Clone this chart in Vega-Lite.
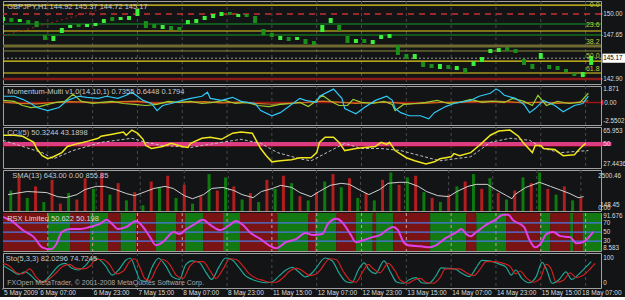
{
"$schema":"https://vega.github.io/schema/vega-lite/v6.json",
"background":"#121416",
"padding":0,
"spacing":0,
"config":{
 "view":{"stroke":"#a0a0a0","strokeWidth":1},
 "text":{"font":"Liberation Sans","fontSize":7}
},
"datasets":{
 "grid":[{"b":16},{"b":32},{"b":48},{"b":64},{"b":80},{"b":96},{"b":112},{"b":128},{"b":144},{"b":160},{"b":176},{"b":192},{"b":208}],
 "xl":[{"b":0,"t":"5 May 2009"},{"b":12.9,"t":"6 May 07:00"},{"b":32,"t":"6 May 23:00"},{"b":48,"t":"7 May 15:00"},{"b":64,"t":"8 May 07:00"},{"b":80,"t":"8 May 23:00"},{"b":96,"t":"11 May 15:00"},{"b":112,"t":"12 May 07:00"},{"b":128,"t":"12 May 23:00"},{"b":144,"t":"13 May 15:00"},{"b":160,"t":"14 May 07:00"},{"b":176,"t":"14 May 23:00"},{"b":192,"t":"15 May 15:00"},{"b":206.4,"t":"18 May 07:00"}],
 "candles":[
  {"b":0,"hi":149.67,"lo":149.23,"d":"u"},{"b":3,"hi":149.56,"lo":149.13,"d":"d"},{"b":6,"hi":149.45,"lo":149.13,"d":"u"},{"b":9,"hi":149.34,"lo":148.91,"d":"d"},{"b":12,"hi":149.23,"lo":148.58,"d":"d"},{"b":15,"hi":147.70,"lo":147.16,"d":"d"},{"b":18,"hi":147.60,"lo":147.05,"d":"u"},{"b":21,"hi":148.47,"lo":147.92,"d":"u"},{"b":24,"hi":148.80,"lo":148.47,"d":"u"},{"b":27,"hi":148.91,"lo":148.58,"d":"d"},{"b":30,"hi":148.91,"lo":148.58,"d":"u"},{"b":33,"hi":149.02,"lo":148.69,"d":"u"},{"b":36,"hi":149.45,"lo":149.02,"d":"u"},{"b":39,"hi":149.67,"lo":149.23,"d":"d"},{"b":42,"hi":149.67,"lo":149.34,"d":"u"},{"b":45,"hi":149.78,"lo":149.34,"d":"u"},{"b":48,"hi":150.55,"lo":149.78,"d":"u"},{"b":51,"hi":149.23,"lo":148.47,"d":"d"},{"b":54,"hi":148.91,"lo":148.47,"d":"d"},{"b":57,"hi":148.80,"lo":148.36,"d":"u"},{"b":60,"hi":148.69,"lo":148.25,"d":"d"},{"b":63,"hi":148.58,"lo":148.14,"d":"d"},{"b":66,"hi":149.34,"lo":148.91,"d":"u"},{"b":69,"hi":149.45,"lo":149.02,"d":"u"},{"b":72,"hi":149.78,"lo":149.34,"d":"u"},{"b":75,"hi":150.00,"lo":149.56,"d":"u"},{"b":78,"hi":150.22,"lo":149.78,"d":"u"},{"b":81,"hi":150.22,"lo":149.89,"d":"d"},{"b":84,"hi":150.00,"lo":149.67,"d":"u"},{"b":87,"hi":150.00,"lo":149.67,"d":"d"},{"b":90,"hi":149.78,"lo":149.02,"d":"d"},{"b":93,"hi":148.36,"lo":147.70,"d":"d"},{"b":96,"hi":147.92,"lo":147.49,"d":"d"},{"b":99,"hi":147.60,"lo":147.16,"d":"u"},{"b":102,"hi":147.49,"lo":147.05,"d":"d"},{"b":105,"hi":147.49,"lo":147.16,"d":"u"},{"b":108,"hi":147.27,"lo":146.72,"d":"d"},{"b":111,"hi":147.05,"lo":146.61,"d":"d"},{"b":114,"hi":148.80,"lo":148.03,"d":"u"},{"b":117,"hi":149.56,"lo":149.02,"d":"u"},{"b":120,"hi":148.80,"lo":148.14,"d":"d"},{"b":123,"hi":147.60,"lo":146.83,"d":"d"},{"b":126,"hi":147.27,"lo":146.83,"d":"u"},{"b":129,"hi":147.27,"lo":146.83,"d":"d"},{"b":132,"hi":147.16,"lo":146.72,"d":"u"},{"b":135,"hi":147.70,"lo":147.27,"d":"u"},{"b":138,"hi":147.81,"lo":147.38,"d":"u"},{"b":141,"hi":146.61,"lo":145.52,"d":"d"},{"b":144,"hi":145.63,"lo":145.08,"d":"d"},{"b":147,"hi":145.63,"lo":145.08,"d":"u"},{"b":150,"hi":144.75,"lo":144.21,"d":"d"},{"b":153,"hi":144.54,"lo":144.10,"d":"d"},{"b":156,"hi":144.54,"lo":143.99,"d":"u"},{"b":159,"hi":144.43,"lo":143.99,"d":"d"},{"b":162,"hi":144.32,"lo":143.88,"d":"u"},{"b":165,"hi":144.10,"lo":143.55,"d":"d"},{"b":168,"hi":144.86,"lo":144.32,"d":"u"},{"b":171,"hi":145.30,"lo":144.75,"d":"u"},{"b":174,"hi":146.17,"lo":145.74,"d":"u"},{"b":177,"hi":146.28,"lo":145.85,"d":"u"},{"b":180,"hi":146.39,"lo":145.96,"d":"d"},{"b":183,"hi":146.17,"lo":145.74,"d":"d"},{"b":186,"hi":145.08,"lo":144.43,"d":"d"},{"b":189,"hi":144.54,"lo":143.99,"d":"d"},{"b":192,"hi":145.74,"lo":145.08,"d":"u"},{"b":195,"hi":144.43,"lo":143.99,"d":"d"},{"b":198,"hi":144.32,"lo":143.88,"d":"d"},{"b":201,"hi":143.99,"lo":143.66,"d":"d"},{"b":204,"hi":143.55,"lo":143.22,"d":"d"},{"b":207,"hi":143.66,"lo":143.11,"d":"u"},{"b":210,"hi":145.41,"lo":144.43,"d":"u"}
 ],
 "mom":[
  {"b":0,"v":0.05,"s":"o"},{"b":6,"v":-0.1,"s":"o"},{"b":12,"v":-0.15,"s":"o"},{"b":18,"v":0.0,"s":"o"},{"b":24,"v":0.1,"s":"o"},{"b":30,"v":0.05,"s":"o"},{"b":36,"v":-0.05,"s":"o"},{"b":42,"v":0.1,"s":"o"},{"b":48,"v":0.15,"s":"o"},{"b":54,"v":-0.1,"s":"o"},{"b":60,"v":0.0,"s":"o"},{"b":66,"v":0.05,"s":"o"},{"b":72,"v":0.1,"s":"o"},{"b":78,"v":-0.05,"s":"o"},{"b":84,"v":0.05,"s":"o"},{"b":90,"v":-0.1,"s":"o"},{"b":96,"v":-0.2,"s":"o"},{"b":102,"v":-0.1,"s":"o"},{"b":108,"v":0.0,"s":"o"},{"b":114,"v":0.15,"s":"o"},{"b":120,"v":0.05,"s":"o"},{"b":126,"v":-0.1,"s":"o"},{"b":132,"v":0.0,"s":"o"},{"b":138,"v":0.05,"s":"o"},{"b":144,"v":-0.15,"s":"o"},{"b":150,"v":-0.1,"s":"o"},{"b":156,"v":0.0,"s":"o"},{"b":162,"v":0.05,"s":"o"},{"b":168,"v":0.1,"s":"o"},{"b":174,"v":0.15,"s":"o"},{"b":180,"v":0.1,"s":"o"},{"b":186,"v":-0.05,"s":"o"},{"b":192,"v":0.05,"s":"o"},{"b":198,"v":-0.1,"s":"o"},{"b":204,"v":0.0,"s":"o"},{"b":209,"v":0.2,"s":"o"},
  {"b":0,"v":0.24,"s":"g"},{"b":4,"v":0.13,"s":"g"},{"b":7,"v":-0.34,"s":"g"},{"b":10,"v":-0.57,"s":"g"},{"b":13,"v":-0.46,"s":"g"},{"b":16,"v":-0.22,"s":"g"},{"b":19,"v":0.01,"s":"g"},{"b":22,"v":0.13,"s":"g"},{"b":25,"v":0.94,"s":"g"},{"b":28,"v":0.13,"s":"g"},{"b":32,"v":-0.11,"s":"g"},{"b":35,"v":0.01,"s":"g"},{"b":39,"v":0.13,"s":"g"},{"b":43,"v":-0.11,"s":"g"},{"b":47,"v":-0.22,"s":"g"},{"b":51,"v":-0.34,"s":"g"},{"b":55,"v":-0.22,"s":"g"},{"b":59,"v":0.13,"s":"g"},{"b":63,"v":0.01,"s":"g"},{"b":67,"v":0.13,"s":"g"},{"b":71,"v":-0.11,"s":"g"},{"b":75,"v":0.01,"s":"g"},{"b":79,"v":0.24,"s":"g"},{"b":83,"v":-0.11,"s":"g"},{"b":87,"v":0.01,"s":"g"},{"b":91,"v":-0.34,"s":"g"},{"b":95,"v":-0.46,"s":"g"},{"b":99,"v":-0.22,"s":"g"},{"b":103,"v":-0.11,"s":"g"},{"b":106,"v":0.01,"s":"g"},{"b":109,"v":-0.46,"s":"g"},{"b":111,"v":0.01,"s":"g"},{"b":114,"v":0.82,"s":"g"},{"b":117,"v":0.13,"s":"g"},{"b":120,"v":-0.34,"s":"g"},{"b":123,"v":-0.34,"s":"g"},{"b":125,"v":0.36,"s":"g"},{"b":128,"v":0.01,"s":"g"},{"b":132,"v":-0.11,"s":"g"},{"b":136,"v":0.13,"s":"g"},{"b":139,"v":-0.22,"s":"g"},{"b":140,"v":-0.92,"s":"g"},{"b":143,"v":-0.22,"s":"g"},{"b":147,"v":-0.11,"s":"g"},{"b":151,"v":0.01,"s":"g"},{"b":155,"v":0.24,"s":"g"},{"b":159,"v":-0.11,"s":"g"},{"b":163,"v":0.01,"s":"g"},{"b":167,"v":0.36,"s":"g"},{"b":171,"v":0.01,"s":"g"},{"b":175,"v":0.13,"s":"g"},{"b":179,"v":0.01,"s":"g"},{"b":182,"v":0.47,"s":"g"},{"b":186,"v":0.13,"s":"g"},{"b":189,"v":-0.34,"s":"g"},{"b":191,"v":0.82,"s":"g"},{"b":194,"v":-0.34,"s":"g"},{"b":198,"v":0.13,"s":"g"},{"b":202,"v":-0.11,"s":"g"},{"b":206,"v":0.01,"s":"g"},{"b":209,"v":1.05,"s":"g"},
  {"b":0,"v":0.71,"s":"c"},{"b":4,"v":0.71,"s":"c"},{"b":7,"v":0.36,"s":"c"},{"b":10,"v":-0.11,"s":"c"},{"b":12,"v":-0.57,"s":"c"},{"b":16,"v":-0.92,"s":"c"},{"b":20,"v":-0.57,"s":"c"},{"b":23,"v":0.24,"s":"c"},{"b":27,"v":0.71,"s":"c"},{"b":30,"v":0.59,"s":"c"},{"b":34,"v":0.47,"s":"c"},{"b":37,"v":0.71,"s":"c"},{"b":41,"v":0.47,"s":"c"},{"b":44,"v":0.82,"s":"c"},{"b":46,"v":1.17,"s":"c"},{"b":48,"v":0.71,"s":"c"},{"b":50,"v":0.24,"s":"c"},{"b":53,"v":-0.11,"s":"c"},{"b":55,"v":-0.92,"s":"c"},{"b":57,"v":-0.34,"s":"c"},{"b":60,"v":-0.11,"s":"c"},{"b":64,"v":0.24,"s":"c"},{"b":67,"v":0.47,"s":"c"},{"b":71,"v":0.71,"s":"c"},{"b":73,"v":1.17,"s":"c"},{"b":74,"v":0.47,"s":"c"},{"b":78,"v":0.24,"s":"c"},{"b":82,"v":0.59,"s":"c"},{"b":85,"v":0.13,"s":"c"},{"b":90,"v":-0.11,"s":"c"},{"b":92,"v":-0.92,"s":"c"},{"b":96,"v":-1.5,"s":"c"},{"b":99,"v":-1.15,"s":"c"},{"b":103,"v":-0.22,"s":"c"},{"b":106,"v":0.47,"s":"c"},{"b":108,"v":0.24,"s":"c"},{"b":112,"v":0.01,"s":"c"},{"b":113,"v":0.71,"s":"c"},{"b":118,"v":1.52,"s":"c"},{"b":121,"v":0.47,"s":"c"},{"b":122,"v":-0.69,"s":"c"},{"b":126,"v":-1.27,"s":"c"},{"b":129,"v":-0.57,"s":"c"},{"b":133,"v":0.24,"s":"c"},{"b":137,"v":0.71,"s":"c"},{"b":139,"v":0.24,"s":"c"},{"b":140,"v":-0.69,"s":"c"},{"b":142,"v":-1.15,"s":"c"},{"b":145,"v":-1.5,"s":"c"},{"b":149,"v":-1.5,"s":"c"},{"b":152,"v":-1.85,"s":"c"},{"b":154,"v":-1.15,"s":"c"},{"b":158,"v":-0.46,"s":"c"},{"b":161,"v":-0.11,"s":"c"},{"b":167,"v":0.24,"s":"c"},{"b":170,"v":0.71,"s":"c"},{"b":174,"v":1.05,"s":"c"},{"b":176,"v":1.52,"s":"c"},{"b":177,"v":1.4,"s":"c"},{"b":179,"v":0.82,"s":"c"},{"b":183,"v":0.47,"s":"c"},{"b":184,"v":0.24,"s":"c"},{"b":186,"v":-0.22,"s":"c"},{"b":188,"v":-1.15,"s":"c"},{"b":190,"v":-0.69,"s":"c"},{"b":193,"v":0.24,"s":"c"},{"b":197,"v":-0.34,"s":"c"},{"b":200,"v":-1.04,"s":"c"},{"b":204,"v":-0.34,"s":"c"},{"b":207,"v":-0.11,"s":"c"},{"b":209,"v":0.71,"s":"c"}
 ],
 "cci":[
  {"b":0,"v":58.25,"s":"m"},{"b":4,"v":58.25,"s":"m"},{"b":7,"v":57.29,"s":"m"},{"b":11,"v":51.51,"s":"m"},{"b":12,"v":45.74,"s":"m"},{"b":14,"v":39.0,"s":"m"},{"b":16,"v":36.11,"s":"m"},{"b":18,"v":38.04,"s":"m"},{"b":21,"v":41.89,"s":"m"},{"b":23,"v":47.66,"s":"m"},{"b":27,"v":50.55,"s":"m"},{"b":30,"v":52.47,"s":"m"},{"b":34,"v":55.36,"s":"m"},{"b":35,"v":57.29,"s":"m"},{"b":39,"v":59.21,"s":"m"},{"b":43,"v":61.14,"s":"m"},{"b":44,"v":58.25,"s":"m"},{"b":46,"v":63.07,"s":"m"},{"b":48,"v":60.18,"s":"m"},{"b":50,"v":54.4,"s":"m"},{"b":51,"v":48.62,"s":"m"},{"b":53,"v":45.74,"s":"m"},{"b":57,"v":47.66,"s":"m"},{"b":60,"v":50.55,"s":"m"},{"b":64,"v":47.66,"s":"m"},{"b":66,"v":46.7,"s":"m"},{"b":67,"v":50.55,"s":"m"},{"b":71,"v":55.36,"s":"m"},{"b":74,"v":56.33,"s":"m"},{"b":78,"v":54.4,"s":"m"},{"b":82,"v":60.18,"s":"m"},{"b":85,"v":61.14,"s":"m"},{"b":89,"v":60.18,"s":"m"},{"b":90,"v":55.36,"s":"m"},{"b":92,"v":45.74,"s":"m"},{"b":94,"v":39.0,"s":"m"},{"b":96,"v":33.22,"s":"m"},{"b":99,"v":34.18,"s":"m"},{"b":103,"v":35.15,"s":"m"},{"b":106,"v":37.07,"s":"m"},{"b":110,"v":37.07,"s":"m"},{"b":112,"v":41.89,"s":"m"},{"b":113,"v":51.51,"s":"m"},{"b":115,"v":56.33,"s":"m"},{"b":118,"v":56.33,"s":"m"},{"b":120,"v":51.51,"s":"m"},{"b":122,"v":43.81,"s":"m"},{"b":126,"v":45.74,"s":"m"},{"b":129,"v":46.7,"s":"m"},{"b":133,"v":47.66,"s":"m"},{"b":135,"v":51.51,"s":"m"},{"b":137,"v":49.59,"s":"m"},{"b":138,"v":51.51,"s":"m"},{"b":140,"v":43.81,"s":"m"},{"b":144,"v":37.07,"s":"m"},{"b":147,"v":34.18,"s":"m"},{"b":151,"v":31.3,"s":"m"},{"b":154,"v":33.22,"s":"m"},{"b":156,"v":36.11,"s":"m"},{"b":160,"v":38.04,"s":"m"},{"b":161,"v":40.92,"s":"m"},{"b":163,"v":39.0,"s":"m"},{"b":167,"v":41.89,"s":"m"},{"b":170,"v":48.62,"s":"m"},{"b":172,"v":53.44,"s":"m"},{"b":174,"v":58.25,"s":"m"},{"b":177,"v":62.1,"s":"m"},{"b":181,"v":63.07,"s":"m"},{"b":184,"v":57.29,"s":"m"},{"b":186,"v":50.55,"s":"m"},{"b":189,"v":41.89,"s":"m"},{"b":190,"v":48.62,"s":"m"},{"b":192,"v":48.62,"s":"m"},{"b":193,"v":45.74,"s":"m"},{"b":197,"v":44.77,"s":"m"},{"b":200,"v":39.0,"s":"m"},{"b":204,"v":39.96,"s":"m"},{"b":206,"v":45.74,"s":"m"},{"b":208,"v":50.55,"s":"m"},
  {"b":0,"v":53.44,"s":"s"},{"b":14,"v":41.89,"s":"s"},{"b":18,"v":36.11,"s":"s"},{"b":25,"v":43.81,"s":"s"},{"b":35,"v":51.51,"s":"s"},{"b":46,"v":55.36,"s":"s"},{"b":51,"v":51.51,"s":"s"},{"b":57,"v":48.62,"s":"s"},{"b":67,"v":46.7,"s":"s"},{"b":78,"v":51.51,"s":"s"},{"b":85,"v":54.4,"s":"s"},{"b":92,"v":50.55,"s":"s"},{"b":98,"v":41.89,"s":"s"},{"b":106,"v":36.11,"s":"s"},{"b":110,"v":34.18,"s":"s"},{"b":117,"v":43.81,"s":"s"},{"b":122,"v":50.55,"s":"s"},{"b":128,"v":45.74,"s":"s"},{"b":135,"v":45.74,"s":"s"},{"b":142,"v":43.81,"s":"s"},{"b":149,"v":39.0,"s":"s"},{"b":156,"v":34.18,"s":"s"},{"b":167,"v":38.04,"s":"s"},{"b":174,"v":51.51,"s":"s"},{"b":181,"v":55.36,"s":"s"},{"b":188,"v":53.44,"s":"s"},{"b":193,"v":45.74,"s":"s"},{"b":199,"v":41.89,"s":"s"},{"b":209,"v":43.81,"s":"s"}
 ],
 "vol":[
  {"b":1,"v":1250,"d":"g"},{"b":4,"v":2050,"d":"r"},{"b":7,"v":800,"d":"g"},{"b":10,"v":1500,"d":"r"},{"b":13,"v":550,"d":"g"},{"b":16,"v":1900,"d":"r"},{"b":19,"v":450,"d":"r"},{"b":22,"v":1100,"d":"g"},{"b":25,"v":700,"d":"r"},{"b":28,"v":2000,"d":"r"},{"b":31,"v":1350,"d":"g"},{"b":34,"v":2350,"d":"r"},{"b":37,"v":1000,"d":"g"},{"b":40,"v":1700,"d":"r"},{"b":43,"v":650,"d":"g"},{"b":46,"v":1150,"d":"r"},{"b":49,"v":350,"d":"g"},{"b":52,"v":1800,"d":"r"},{"b":55,"v":1450,"d":"g"},{"b":58,"v":2150,"d":"r"},{"b":61,"v":800,"d":"g"},{"b":64,"v":1600,"d":"r"},{"b":67,"v":450,"d":"g"},{"b":70,"v":900,"d":"r"},{"b":73,"v":2250,"d":"g"},{"b":76,"v":1250,"d":"r"},{"b":79,"v":2050,"d":"g"},{"b":82,"v":1500,"d":"r"},{"b":85,"v":700,"d":"g"},{"b":88,"v":1100,"d":"r"},{"b":91,"v":550,"d":"g"},{"b":94,"v":1900,"d":"r"},{"b":97,"v":1350,"d":"g"},{"b":100,"v":2150,"d":"r"},{"b":103,"v":1700,"d":"g"},{"b":106,"v":900,"d":"r"},{"b":109,"v":650,"d":"g"},{"b":112,"v":1150,"d":"r"},{"b":115,"v":1800,"d":"g"},{"b":118,"v":2250,"d":"r"},{"b":121,"v":1450,"d":"g"},{"b":124,"v":2000,"d":"r"},{"b":127,"v":800,"d":"g"},{"b":130,"v":1100,"d":"r"},{"b":133,"v":650,"d":"g"},{"b":136,"v":1900,"d":"r"},{"b":139,"v":2350,"d":"g"},{"b":142,"v":1600,"d":"r"},{"b":145,"v":2050,"d":"g"},{"b":148,"v":2150,"d":"r"},{"b":151,"v":1150,"d":"g"},{"b":154,"v":800,"d":"r"},{"b":157,"v":550,"d":"g"},{"b":160,"v":1000,"d":"r"},{"b":163,"v":1500,"d":"g"},{"b":166,"v":1800,"d":"r"},{"b":169,"v":2250,"d":"g"},{"b":172,"v":1350,"d":"r"},{"b":175,"v":2000,"d":"g"},{"b":178,"v":1100,"d":"r"},{"b":181,"v":700,"d":"g"},{"b":184,"v":1250,"d":"r"},{"b":187,"v":2050,"d":"g"},{"b":190,"v":1700,"d":"r"},{"b":193,"v":2350,"d":"g"},{"b":196,"v":1350,"d":"r"},{"b":199,"v":1000,"d":"g"},{"b":202,"v":1500,"d":"r"},{"b":205,"v":650,"d":"g"},{"b":208,"v":800,"d":"r"}
 ],
 "volma":[
  {"b":0,"v":1000},{"b":7,"v":1188},{"b":14,"v":1125},{"b":18,"v":875},{"b":21,"v":813},{"b":25,"v":1000},{"b":28,"v":1313},{"b":32,"v":1500},{"b":35,"v":1500},{"b":39,"v":1313},{"b":43,"v":1063},{"b":46,"v":938},{"b":50,"v":1188},{"b":53,"v":1375},{"b":57,"v":1500},{"b":60,"v":1375},{"b":64,"v":938},{"b":67,"v":750},{"b":71,"v":1000},{"b":74,"v":1375},{"b":78,"v":1438},{"b":82,"v":1250},{"b":85,"v":1000},{"b":89,"v":813},{"b":92,"v":1188},{"b":96,"v":1375},{"b":99,"v":1563},{"b":103,"v":1438},{"b":106,"v":1125},{"b":110,"v":875},{"b":113,"v":1188},{"b":117,"v":1563},{"b":121,"v":1688},{"b":124,"v":1625},{"b":128,"v":1250},{"b":131,"v":1000},{"b":135,"v":1313},{"b":138,"v":1688},{"b":142,"v":1750},{"b":145,"v":1750},{"b":149,"v":1500},{"b":152,"v":1188},{"b":156,"v":938},{"b":160,"v":875},{"b":163,"v":1188},{"b":167,"v":1500},{"b":170,"v":1625},{"b":174,"v":1625},{"b":177,"v":1313},{"b":181,"v":938},{"b":183,"v":750},{"b":184,"v":1000},{"b":188,"v":1438},{"b":193,"v":1750},{"b":197,"v":1500},{"b":200,"v":1313},{"b":204,"v":1063},{"b":207,"v":813},{"b":209,"v":875}
 ],
 "bands":[
  {"b0":0,"b1":16,"d":"r"},{"b0":16,"b1":24,"d":"g"},{"b0":24,"b1":31,"d":"r"},{"b0":31,"b1":37.5,"d":"g"},{"b0":37.5,"b1":42,"d":"r"},{"b0":42,"b1":47.5,"d":"g"},{"b0":47.5,"b1":54.6,"d":"r"},{"b0":54.6,"b1":61.8,"d":"g"},{"b0":61.8,"b1":65,"d":"r"},{"b0":65,"b1":71.4,"d":"g"},{"b0":71.4,"b1":78.6,"d":"r"},{"b0":78.6,"b1":84.6,"d":"g"},{"b0":84.6,"b1":98,"d":"r"},{"b0":98,"b1":109,"d":"g"},{"b0":109,"b1":111.4,"d":"r"},{"b0":111.4,"b1":119,"d":"g"},{"b0":119,"b1":126,"d":"r"},{"b0":126,"b1":132,"d":"g"},{"b0":132,"b1":133.2,"d":"r"},{"b0":133.2,"b1":139.3,"d":"g"},{"b0":139.3,"b1":152.5,"d":"r"},{"b0":152.5,"b1":165.4,"d":"g"},{"b0":165.4,"b1":169,"d":"r"},{"b0":169,"b1":179.6,"d":"g"},{"b0":179.6,"b1":191.8,"d":"r"},{"b0":191.8,"b1":195.4,"d":"g"},{"b0":195.4,"b1":202.5,"d":"r"},{"b0":202.5,"b1":203.6,"d":"g"},{"b0":203.6,"b1":207,"d":"r"},{"b0":207,"b1":213.5,"d":"g"}
 ],
 "rsx":[
  {"b":0,"v":83.3},{"b":3.6,"v":72.2},{"b":7,"v":54.4},{"b":11,"v":38.9},{"b":14,"v":16.7},{"b":17,"v":12.2},{"b":19,"v":23.3},{"b":21,"v":50},{"b":24,"v":56.7},{"b":27.5,"v":56.7},{"b":31,"v":61.1},{"b":34.6,"v":67.8},{"b":37,"v":76.7},{"b":39,"v":67.8},{"b":41,"v":56.7},{"b":44,"v":61.1},{"b":47.5,"v":74.4},{"b":50,"v":61.1},{"b":52.5,"v":38.9},{"b":54.6,"v":21.1},{"b":57,"v":27.8},{"b":61,"v":50},{"b":63,"v":45.6},{"b":65,"v":54.4},{"b":68,"v":65.6},{"b":71.4,"v":76.7},{"b":74,"v":65.6},{"b":77.5,"v":54.4},{"b":81,"v":65.6},{"b":83,"v":74.4},{"b":85.7,"v":65.6},{"b":88,"v":50},{"b":92,"v":34.4},{"b":95,"v":21.1},{"b":97.5,"v":14.4},{"b":101,"v":27.8},{"b":104.6,"v":34.4},{"b":108,"v":47.8},{"b":110.7,"v":43.3},{"b":114,"v":45.6},{"b":116,"v":67.8},{"b":119,"v":78.9},{"b":121,"v":72.2},{"b":124,"v":45.6},{"b":126,"v":27.8},{"b":128.6,"v":32.2},{"b":132,"v":38.9},{"b":134.6,"v":43.3},{"b":137,"v":54.4},{"b":139.3,"v":61.1},{"b":141,"v":54.4},{"b":143,"v":27.8},{"b":144.6,"v":21.1},{"b":149,"v":18.9},{"b":152.5,"v":16.7},{"b":154.6,"v":21.1},{"b":158,"v":36.7},{"b":162,"v":50},{"b":163.6,"v":56.7},{"b":165.4,"v":45.6},{"b":167,"v":41.1},{"b":169,"v":50},{"b":172.5,"v":65.6},{"b":175.7,"v":76.7},{"b":178.6,"v":87.8},{"b":180.4,"v":87.8},{"b":182,"v":76.7},{"b":186,"v":61.1},{"b":188,"v":32.2},{"b":190,"v":16.7},{"b":191.8,"v":23.3},{"b":194,"v":45.6},{"b":196.4,"v":50},{"b":199,"v":41.1},{"b":202.5,"v":38.9},{"b":204.6,"v":25.6},{"b":207,"v":27.8},{"b":210.7,"v":50.6}
 ],
 "sto":[
  {"b":0,"v":70,"s":"t"},{"b":3,"v":50,"s":"t"},{"b":5.5,"v":35,"s":"t"},{"b":8,"v":45,"s":"t"},{"b":10,"v":30,"s":"t"},{"b":12.8,"v":5,"s":"t"},{"b":15,"v":10,"s":"t"},{"b":17.5,"v":40,"s":"t"},{"b":20,"v":70,"s":"t"},{"b":22.3,"v":78,"s":"t"},{"b":24.5,"v":60,"s":"t"},{"b":27,"v":52,"s":"t"},{"b":29.5,"v":70,"s":"t"},{"b":32,"v":98,"s":"t"},{"b":34,"v":95,"s":"t"},{"b":36.5,"v":70,"s":"t"},{"b":39,"v":32,"s":"t"},{"b":41.5,"v":55,"s":"t"},{"b":44,"v":92,"s":"t"},{"b":45.5,"v":98,"s":"t"},{"b":47.5,"v":50,"s":"t"},{"b":49,"v":12,"s":"t"},{"b":51,"v":8,"s":"t"},{"b":53.3,"v":65,"s":"t"},{"b":55.5,"v":98,"s":"t"},{"b":58,"v":70,"s":"t"},{"b":60.5,"v":25,"s":"t"},{"b":63,"v":15,"s":"t"},{"b":65.2,"v":72,"s":"t"},{"b":67.5,"v":88,"s":"t"},{"b":70,"v":82,"s":"t"},{"b":72.5,"v":42,"s":"t"},{"b":74.5,"v":15,"s":"t"},{"b":77,"v":62,"s":"t"},{"b":79.5,"v":99,"s":"t"},{"b":82,"v":90,"s":"t"},{"b":84.2,"v":62,"s":"t"},{"b":86.5,"v":30,"s":"t"},{"b":89,"v":15,"s":"t"},{"b":91.5,"v":6,"s":"t"},{"b":94,"v":2,"s":"t"},{"b":96,"v":5,"s":"t"},{"b":98.5,"v":28,"s":"t"},{"b":101,"v":52,"s":"t"},{"b":103.3,"v":62,"s":"t"},{"b":105.5,"v":45,"s":"t"},{"b":108,"v":25,"s":"t"},{"b":110.5,"v":42,"s":"t"},{"b":111.5,"v":55,"s":"t"},{"b":115,"v":99,"s":"t"},{"b":117.5,"v":88,"s":"t"},{"b":120,"v":40,"s":"t"},{"b":122.5,"v":6,"s":"t"},{"b":124.5,"v":2,"s":"t"},{"b":127,"v":55,"s":"t"},{"b":129,"v":80,"s":"t"},{"b":130.5,"v":55,"s":"t"},{"b":133,"v":38,"s":"t"},{"b":136,"v":88,"s":"t"},{"b":138.5,"v":40,"s":"t"},{"b":140.5,"v":5,"s":"t"},{"b":143,"v":0,"s":"t"},{"b":145,"v":14,"s":"t"},{"b":147.5,"v":22,"s":"t"},{"b":149.5,"v":2,"s":"t"},{"b":152,"v":0,"s":"t"},{"b":154.5,"v":28,"s":"t"},{"b":156.5,"v":60,"s":"t"},{"b":159.2,"v":58,"s":"t"},{"b":161.5,"v":55,"s":"t"},{"b":164,"v":38,"s":"t"},{"b":166.5,"v":26,"s":"t"},{"b":169,"v":62,"s":"t"},{"b":171,"v":90,"s":"t"},{"b":174.2,"v":87,"s":"t"},{"b":177,"v":76,"s":"t"},{"b":179.5,"v":64,"s":"t"},{"b":181.5,"v":32,"s":"t"},{"b":183,"v":52,"s":"t"},{"b":185.3,"v":18,"s":"t"},{"b":187.8,"v":2,"s":"t"},{"b":190.3,"v":25,"s":"t"},{"b":192.5,"v":82,"s":"t"},{"b":194.2,"v":50,"s":"t"},{"b":196,"v":0,"s":"t"},{"b":198.5,"v":14,"s":"t"},{"b":201,"v":45,"s":"t"},{"b":203,"v":15,"s":"t"},{"b":205.5,"v":35,"s":"t"},{"b":208,"v":62,"s":"t"},{"b":210,"v":85,"s":"t"},
  {"b":0,"v":78,"s":"r"},{"b":2.4,"v":67,"s":"r"},{"b":4.8,"v":41,"s":"r"},{"b":7,"v":37,"s":"r"},{"b":9.5,"v":56,"s":"r"},{"b":12,"v":22,"s":"r"},{"b":14.3,"v":4,"s":"r"},{"b":16.7,"v":19,"s":"r"},{"b":19,"v":41,"s":"r"},{"b":21.4,"v":67,"s":"r"},{"b":23.8,"v":74,"s":"r"},{"b":26,"v":59,"s":"r"},{"b":28.6,"v":56,"s":"r"},{"b":31,"v":67,"s":"r"},{"b":33.3,"v":93,"s":"r"},{"b":35.7,"v":93,"s":"r"},{"b":38,"v":74,"s":"r"},{"b":40.5,"v":37,"s":"r"},{"b":43,"v":48,"s":"r"},{"b":45.2,"v":85,"s":"r"},{"b":47,"v":96,"s":"r"},{"b":49,"v":59,"s":"r"},{"b":50.6,"v":19,"s":"r"},{"b":52.4,"v":11,"s":"r"},{"b":54.8,"v":59,"s":"r"},{"b":57,"v":93,"s":"r"},{"b":59.5,"v":74,"s":"r"},{"b":62,"v":30,"s":"r"},{"b":64.3,"v":19,"s":"r"},{"b":66.7,"v":67,"s":"r"},{"b":69,"v":85,"s":"r"},{"b":71.4,"v":85,"s":"r"},{"b":74,"v":48,"s":"r"},{"b":76,"v":19,"s":"r"},{"b":78.6,"v":56,"s":"r"},{"b":81,"v":96,"s":"r"},{"b":83.3,"v":93,"s":"r"},{"b":85.7,"v":67,"s":"r"},{"b":88,"v":37,"s":"r"},{"b":90.5,"v":19,"s":"r"},{"b":93,"v":11,"s":"r"},{"b":95.2,"v":4,"s":"r"},{"b":97.5,"v":4,"s":"r"},{"b":100,"v":22,"s":"r"},{"b":102.4,"v":48,"s":"r"},{"b":104.8,"v":59,"s":"r"},{"b":107,"v":48,"s":"r"},{"b":109.5,"v":30,"s":"r"},{"b":112,"v":37,"s":"r"},{"b":113,"v":48,"s":"r"},{"b":116.7,"v":96,"s":"r"},{"b":119,"v":93,"s":"r"},{"b":121.4,"v":48,"s":"r"},{"b":124,"v":11,"s":"r"},{"b":126,"v":4,"s":"r"},{"b":128.6,"v":48,"s":"r"},{"b":130.4,"v":74,"s":"r"},{"b":132,"v":59,"s":"r"},{"b":134.6,"v":41,"s":"r"},{"b":137.5,"v":78,"s":"r"},{"b":140,"v":48,"s":"r"},{"b":142,"v":11,"s":"r"},{"b":144.6,"v":0,"s":"r"},{"b":146.4,"v":11,"s":"r"},{"b":149,"v":19,"s":"r"},{"b":151,"v":4,"s":"r"},{"b":153.6,"v":0,"s":"r"},{"b":156,"v":22,"s":"r"},{"b":158,"v":56,"s":"r"},{"b":160.7,"v":56,"s":"r"},{"b":163,"v":56,"s":"r"},{"b":165.4,"v":41,"s":"r"},{"b":168,"v":30,"s":"r"},{"b":170.4,"v":56,"s":"r"},{"b":172.5,"v":85,"s":"r"},{"b":175.7,"v":85,"s":"r"},{"b":178.6,"v":78,"s":"r"},{"b":181,"v":67,"s":"r"},{"b":183,"v":37,"s":"r"},{"b":184.6,"v":48,"s":"r"},{"b":186.8,"v":22,"s":"r"},{"b":189.3,"v":4,"s":"r"},{"b":191.8,"v":19,"s":"r"},{"b":194,"v":74,"s":"r"},{"b":195.7,"v":56,"s":"r"},{"b":197.5,"v":4,"s":"r"},{"b":200,"v":11,"s":"r"},{"b":202.5,"v":41,"s":"r"},{"b":204.6,"v":22,"s":"r"},{"b":207,"v":30,"s":"r"},{"b":209.6,"v":56,"s":"r"},{"b":211.4,"v":78,"s":"r"}
 ]
},
"vconcat":[
 {
  "width":598,"height":83,
  "layer":[
   {"data":{"name":"grid"},"mark":{"type":"rule","color":"#4a4a4a","strokeDash":[3,3]},
    "encoding":{"x":{"field":"b","type":"quantitative","scale":{"domain":[0,213.5],"nice":false,"zero":false},"axis":null}}},
   {"data":{"values":[{"p":150.98},{"p":148.14},{"p":144.86},{"p":143.55}]},"mark":{"type":"rule","color":"#e8d21e","strokeWidth":1.2},
    "encoding":{"y":{"field":"p","type":"quantitative","scale":{"domain":[142.35,151.42],"nice":false,"zero":false},"axis":null}}},
   {"data":{"values":[{"p":150.0}]},"mark":{"type":"rule","color":"#c83232","strokeDash":[6,5],"strokeWidth":1.3},
    "encoding":{"y":{"field":"p","type":"quantitative","scale":{"domain":[142.35,151.42],"nice":false,"zero":false},"axis":null}}},
   {"data":{"values":[{"p":148.91},{"p":147.70}]},"mark":{"type":"rule","color":"#136e1e","strokeWidth":1.5},
    "encoding":{"y":{"field":"p","type":"quantitative","scale":{"domain":[142.35,151.42],"nice":false,"zero":false},"axis":null}}},
   {"data":{"values":[{"p":146.5}]},"mark":{"type":"rule","color":"#6e6a30","strokeWidth":3},
    "encoding":{"y":{"field":"p","type":"quantitative","scale":{"domain":[142.35,151.42],"nice":false,"zero":false},"axis":null}}},
   {"data":{"values":[{"p":145.96}]},"mark":{"type":"rule","color":"#8a8a3a","strokeWidth":1},
    "encoding":{"y":{"field":"p","type":"quantitative","scale":{"domain":[142.35,151.42],"nice":false,"zero":false},"axis":null}}},
   {"data":{"values":[{"p":145.17}]},"mark":{"type":"rule","color":"#9a9a9a","strokeDash":[2,2]},
    "encoding":{"y":{"field":"p","type":"quantitative","scale":{"domain":[142.35,151.42],"nice":false,"zero":false},"axis":null}}},
   {"data":{"values":[{"p":142.9}]},"mark":{"type":"rule","color":"#8b1c1c","strokeWidth":2.5},
    "encoding":{"y":{"field":"p","type":"quantitative","scale":{"domain":[142.35,151.42],"nice":false,"zero":false},"axis":null}}},
   {"data":{"values":[{"b":0,"p":147.6},{"b":39,"p":150.87}]},"mark":{"type":"line","color":"#b02020","strokeDash":[2,3],"strokeWidth":1,"clip":true},
    "encoding":{"x":{"field":"b","type":"quantitative","scale":{"domain":[0,213.5],"nice":false,"zero":false},"axis":null},"y":{"field":"p","type":"quantitative","scale":{"domain":[142.35,151.42],"nice":false,"zero":false},"axis":null}}},
   {"data":{"name":"candles"},"mark":{"type":"rule","strokeWidth":4,"clip":true},
    "encoding":{"x":{"field":"b","type":"quantitative","scale":{"domain":[0,213.5],"nice":false,"zero":false},"axis":null},"y":{"field":"lo","type":"quantitative","scale":{"domain":[142.35,151.42],"nice":false,"zero":false},"axis":null},"y2":{"field":"hi"},
     "color":{"field":"d","type":"nominal","scale":{"domain":["u","d"],"range":["#3cf03c","#1a8f1a"]},"legend":null}}},
   {"data":{"values":[{"p":151.0,"t":"0.0"},{"p":148.80,"t":"23.6"},{"p":146.94,"t":"38.2"},{"p":145.41,"t":"50.0"},{"p":143.99,"t":"61.8"}]},"mark":{"type":"text","align":"right","color":"#c8c83c","fontSize":7},
    "encoding":{"x":{"datum":213,"type":"quantitative","scale":{"domain":[0,213.5],"nice":false,"zero":false},"axis":null},"y":{"field":"p","type":"quantitative","scale":{"domain":[142.35,151.42],"nice":false,"zero":false},"axis":null},"text":{"field":"t"}}},
   {"data":{"values":[{"t":"GBPJPY,H1  144.92 145.37 144.72 145.17"}]},"mark":{"type":"text","align":"left","baseline":"top","color":"#c8c8c8","fontSize":7.5,"dy":1.5},
    "encoding":{"x":{"datum":1.5,"type":"quantitative","scale":{"domain":[0,213.5],"nice":false,"zero":false},"axis":null},"y":{"datum":151.42,"type":"quantitative","scale":{"domain":[142.35,151.42],"nice":false,"zero":false},"axis":null},"text":{"field":"t"}}},
   {"data":{"values":[{"p":150.0,"t":"150.00"},{"p":147.65,"t":"147.65"},{"p":142.9,"t":"142.90"}]},"mark":{"type":"text","align":"left","baseline":"middle","color":"#dcdcdc","fontSize":6.3},
    "encoding":{"x":{"datum":214.3,"type":"quantitative","scale":{"domain":[0,213.5],"nice":false,"zero":false},"axis":null},"y":{"field":"p","type":"quantitative","scale":{"domain":[142.35,151.42],"nice":false,"zero":false},"axis":null},"text":{"field":"t"}}},
   {"data":{"values":[{"p":150.0},{"p":147.65},{"p":142.9}]},"mark":{"type":"rule","color":"#a0a0a0"},
    "encoding":{"x":{"datum":213.5,"type":"quantitative","scale":{"domain":[0,213.5],"nice":false,"zero":false},"axis":null},"x2":{"datum":214.1},"y":{"field":"p","type":"quantitative","scale":{"domain":[142.35,151.42],"nice":false,"zero":false},"axis":null}}},
   {"data":{"values":[{}]},"mark":{"type":"rect","color":"#ffffff"},
    "encoding":{"x":{"datum":214.0,"type":"quantitative","scale":{"domain":[0,213.5],"nice":false,"zero":false},"axis":null},"x2":{"datum":222.5},"y":{"datum":144.67,"type":"quantitative","scale":{"domain":[142.35,151.42],"nice":false,"zero":false},"axis":null},"y2":{"datum":145.67}}},
   {"data":{"values":[{"t":"145.17"}]},"mark":{"type":"text","align":"left","baseline":"middle","color":"#000000","fontSize":6.3},
    "encoding":{"x":{"datum":214.3,"type":"quantitative","scale":{"domain":[0,213.5],"nice":false,"zero":false},"axis":null},"y":{"datum":145.17,"type":"quantitative","scale":{"domain":[142.35,151.42],"nice":false,"zero":false},"axis":null},"text":{"field":"t"}}}
  ]
 },
 {
  "width":598,"height":39,
  "layer":[
   {"data":{"name":"grid"},"mark":{"type":"rule","color":"#4a4a4a","strokeDash":[3,3]},
    "encoding":{"x":{"field":"b","type":"quantitative","scale":{"domain":[0,213.5],"nice":false,"zero":false},"axis":null}}},
   {"data":{"values":[{"v":0}]},"mark":{"type":"rule","color":"#a01414","strokeWidth":1.5},
    "encoding":{"y":{"field":"v","type":"quantitative","scale":{"domain":[-2.5502,1.871],"nice":false,"zero":false},"axis":null}}},
   {"data":{"name":"mom"},"mark":{"type":"line","strokeWidth":1.2,"clip":true},
    "encoding":{"x":{"field":"b","type":"quantitative","scale":{"domain":[0,213.5],"nice":false,"zero":false},"axis":null},"y":{"field":"v","type":"quantitative","scale":{"domain":[-2.5502,1.871],"nice":false,"zero":false},"axis":null},
     "color":{"field":"s","type":"nominal","scale":{"domain":["o","g","c"],"range":["#d2741e","#9acd32","#30c8f8"]},"legend":null}}},
   {"data":{"values":[{"t":"Momentum-Multi v1.0(14,10,1) 0.7355 0.6448 0.1794"}]},"mark":{"type":"text","align":"left","baseline":"top","color":"#c8c8c8","fontSize":7.5,"dy":2},
    "encoding":{"x":{"datum":1.5,"type":"quantitative","scale":{"domain":[0,213.5],"nice":false,"zero":false},"axis":null},"y":{"datum":1.871,"type":"quantitative","scale":{"domain":[-2.5502,1.871],"nice":false,"zero":false},"axis":null},"text":{"field":"t"}}},
   {"data":{"values":[{}]},"mark":{"type":"rect","color":"#d03040"},
    "encoding":{"x":{"datum":213.8,"type":"quantitative","scale":{"domain":[0,213.5],"nice":false,"zero":false},"axis":null},"x2":{"datum":214.3},"y":{"datum":-0.3,"type":"quantitative","scale":{"domain":[-2.5502,1.871],"nice":false,"zero":false},"axis":null},"y2":{"datum":0.3}}},
   {"data":{"values":[{"v":0,"t":"0.00"}]},"mark":{"type":"text","align":"left","baseline":"middle","color":"#dcdcdc","fontSize":6.3},
    "encoding":{"x":{"datum":214.7,"type":"quantitative","scale":{"domain":[0,213.5],"nice":false,"zero":false},"axis":null},"y":{"field":"v","type":"quantitative","scale":{"domain":[-2.5502,1.871],"nice":false,"zero":false},"axis":null},"text":{"field":"t"}}},
   {"data":{"values":[{"v":1.871,"t":"1.871"}]},"mark":{"type":"text","align":"left","baseline":"top","color":"#dcdcdc","fontSize":6.3,"dy":0},
    "encoding":{"x":{"datum":214.3,"type":"quantitative","scale":{"domain":[0,213.5],"nice":false,"zero":false},"axis":null},"y":{"field":"v","type":"quantitative","scale":{"domain":[-2.5502,1.871],"nice":false,"zero":false},"axis":null},"text":{"field":"t"}}},
   {"data":{"values":[{"v":-2.5502,"t":"-2.5502"}]},"mark":{"type":"text","align":"left","baseline":"bottom","color":"#dcdcdc","fontSize":6.3,"dy":-1},
    "encoding":{"x":{"datum":214.3,"type":"quantitative","scale":{"domain":[0,213.5],"nice":false,"zero":false},"axis":null},"y":{"field":"v","type":"quantitative","scale":{"domain":[-2.5502,1.871],"nice":false,"zero":false},"axis":null},"text":{"field":"t"}}}
  ]
 },
 {
  "width":598,"height":41,
  "layer":[
   {"data":{"name":"grid"},"mark":{"type":"rule","color":"#4a4a4a","strokeDash":[3,3]},
    "encoding":{"x":{"field":"b","type":"quantitative","scale":{"domain":[0,213.5],"nice":false,"zero":false},"axis":null}}},
   {"data":{"values":[{"v":48.0}]},"mark":{"type":"rule","color":"#8b1010","strokeWidth":1.5},
    "encoding":{"y":{"field":"v","type":"quantitative","scale":{"domain":[27.4436,65.953],"nice":false,"zero":false},"axis":null}}},
   {"data":{"values":[{"v":50}]},"mark":{"type":"rule","color":"#dc3c82","strokeWidth":4},
    "encoding":{"y":{"field":"v","type":"quantitative","scale":{"domain":[27.4436,65.953],"nice":false,"zero":false},"axis":null}}},
   {"data":{"name":"cci"},"transform":[{"filter":"datum.s == 's'"}],"mark":{"type":"line","color":"#c0c0c0","strokeDash":[3,2],"strokeWidth":1,"clip":true},
    "encoding":{"x":{"field":"b","type":"quantitative","scale":{"domain":[0,213.5],"nice":false,"zero":false},"axis":null},"y":{"field":"v","type":"quantitative","scale":{"domain":[27.4436,65.953],"nice":false,"zero":false},"axis":null}}},
   {"data":{"name":"cci"},"transform":[{"filter":"datum.s == 'm'"}],"mark":{"type":"line","color":"#f0e61e","strokeWidth":1.5,"clip":true},
    "encoding":{"x":{"field":"b","type":"quantitative","scale":{"domain":[0,213.5],"nice":false,"zero":false},"axis":null},"y":{"field":"v","type":"quantitative","scale":{"domain":[27.4436,65.953],"nice":false,"zero":false},"axis":null}}},
   {"data":{"values":[{"t":"CCI(5) 50.3244 43.1898"}]},"mark":{"type":"text","align":"left","baseline":"top","color":"#c8c8c8","fontSize":7.5,"dy":2},
    "encoding":{"x":{"datum":1.5,"type":"quantitative","scale":{"domain":[0,213.5],"nice":false,"zero":false},"axis":null},"y":{"datum":65.953,"type":"quantitative","scale":{"domain":[27.4436,65.953],"nice":false,"zero":false},"axis":null},"text":{"field":"t"}}},
   {"data":{"values":[{}]},"mark":{"type":"rect","color":"#dc3c82"},
    "encoding":{"x":{"datum":213.5,"type":"quantitative","scale":{"domain":[0,213.5],"nice":false,"zero":false},"axis":null},"x2":{"datum":217.2},"y":{"datum":48.1,"type":"quantitative","scale":{"domain":[27.4436,65.953],"nice":false,"zero":false},"axis":null},"y2":{"datum":51.9}}},
   {"data":{"values":[{"v":50,"t":"50"}]},"mark":{"type":"text","align":"left","baseline":"middle","color":"#f0d0e0","fontSize":6.3},
    "encoding":{"x":{"datum":214.3,"type":"quantitative","scale":{"domain":[0,213.5],"nice":false,"zero":false},"axis":null},"y":{"field":"v","type":"quantitative","scale":{"domain":[27.4436,65.953],"nice":false,"zero":false},"axis":null},"text":{"field":"t"}}},
   {"data":{"values":[{"v":65.953,"t":"65.953"}]},"mark":{"type":"text","align":"left","baseline":"top","color":"#dcdcdc","fontSize":6.3,"dy":1},
    "encoding":{"x":{"datum":214.3,"type":"quantitative","scale":{"domain":[0,213.5],"nice":false,"zero":false},"axis":null},"y":{"field":"v","type":"quantitative","scale":{"domain":[27.4436,65.953],"nice":false,"zero":false},"axis":null},"text":{"field":"t"}}},
   {"data":{"values":[{"v":27.4436,"t":"27.4436"}]},"mark":{"type":"text","align":"left","baseline":"bottom","color":"#dcdcdc","fontSize":6.3,"dy":-1},
    "encoding":{"x":{"datum":214.3,"type":"quantitative","scale":{"domain":[0,213.5],"nice":false,"zero":false},"axis":null},"y":{"field":"v","type":"quantitative","scale":{"domain":[27.4436,65.953],"nice":false,"zero":false},"axis":null},"text":{"field":"t"}}}
  ]
 },
 {
  "width":598,"height":41,
  "layer":[
   {"data":{"name":"grid"},"mark":{"type":"rule","color":"#4a4a4a","strokeDash":[3,3]},
    "encoding":{"x":{"field":"b","type":"quantitative","scale":{"domain":[0,213.5],"nice":false,"zero":false},"axis":null}}},
   {"data":{"name":"vol"},"mark":{"type":"bar","width":3,"clip":true},
    "encoding":{"x":{"field":"b","type":"quantitative","scale":{"domain":[0,213.5],"nice":false,"zero":false},"axis":null},"y":{"field":"v","type":"quantitative","scale":{"domain":[0,2500.46],"nice":false,"zero":false},"axis":null},
     "color":{"field":"d","type":"nominal","scale":{"domain":["r","g"],"range":["#b01e1e","#0c7a0c"]},"legend":null}}},
   {"data":{"name":"volma"},"mark":{"type":"line","color":"#d0d0d0","strokeWidth":1,"clip":true},
    "encoding":{"x":{"field":"b","type":"quantitative","scale":{"domain":[0,213.5],"nice":false,"zero":false},"axis":null},"y":{"field":"v","type":"quantitative","scale":{"domain":[0,2500.46],"nice":false,"zero":false},"axis":null}}},
   {"data":{"values":[{"t":"SMA(13) 643.00 0.00 855.85"}]},"mark":{"type":"text","align":"left","baseline":"top","color":"#c8c8c8","fontSize":7.5,"dy":2},
    "encoding":{"x":{"datum":1.5,"type":"quantitative","scale":{"domain":[0,213.5],"nice":false,"zero":false},"axis":null},"y":{"datum":2500.46,"type":"quantitative","scale":{"domain":[0,2500.46],"nice":false,"zero":false},"axis":null},"text":{"field":"t"}}},
   {"data":{"values":[{"v":2500.46,"t":"2500.46"}]},"mark":{"type":"text","align":"left","baseline":"top","color":"#dcdcdc","fontSize":6.3,"dy":3},
    "encoding":{"x":{"datum":214.3,"type":"quantitative","scale":{"domain":[0,213.5],"nice":false,"zero":false},"axis":null},"y":{"field":"v","type":"quantitative","scale":{"domain":[0,2500.46],"nice":false,"zero":false},"axis":null},"text":{"field":"t"}}},
   {"data":{"values":[{"v":0,"t":"148.45"}]},"mark":{"type":"text","align":"left","baseline":"bottom","color":"#dcdcdc","fontSize":6.3,"dy":-3,"dx":2},
    "encoding":{"x":{"datum":214.3,"type":"quantitative","scale":{"domain":[0,213.5],"nice":false,"zero":false},"axis":null},"y":{"field":"v","type":"quantitative","scale":{"domain":[0,2500.46],"nice":false,"zero":false},"axis":null},"text":{"field":"t"}}},
   {"data":{"values":[{"v":0,"t":"0.00"}]},"mark":{"type":"text","align":"left","baseline":"bottom","color":"#dcdcdc","fontSize":6.3,"dy":0},
    "encoding":{"x":{"datum":214.3,"type":"quantitative","scale":{"domain":[0,213.5],"nice":false,"zero":false},"axis":null},"y":{"field":"v","type":"quantitative","scale":{"domain":[0,2500.46],"nice":false,"zero":false},"axis":null},"text":{"field":"t"}}}
  ]
 },
 {
  "width":598,"height":38,
  "layer":[
   {"data":{"name":"bands"},"mark":{"type":"rect","clip":true},
    "encoding":{"x":{"field":"b0","type":"quantitative","scale":{"domain":[0,213.5],"nice":false,"zero":false},"axis":null},"x2":{"field":"b1"},
     "color":{"field":"d","type":"nominal","scale":{"domain":["r","g"],"range":["#7a1414","#137a13"]},"legend":null}}},
   {"data":{"name":"grid"},"mark":{"type":"rule","color":"#c8a0a0","strokeDash":[3,3]},
    "encoding":{"x":{"field":"b","type":"quantitative","scale":{"domain":[0,213.5],"nice":false,"zero":false},"axis":null}}},
   {"data":{"values":[{"v":30},{"v":50},{"v":70}]},"mark":{"type":"rule","color":"#4a78e8","strokeWidth":1.2},
    "encoding":{"y":{"field":"v","type":"quantitative","scale":{"domain":[8.583,91.676],"nice":false,"zero":false},"axis":null}}},
   {"data":{"name":"rsx"},"mark":{"type":"line","color":"#e040e8","strokeWidth":2,"interpolate":"monotone","clip":true},
    "encoding":{"x":{"field":"b","type":"quantitative","scale":{"domain":[0,213.5],"nice":false,"zero":false},"axis":null},"y":{"field":"v","type":"quantitative","scale":{"domain":[8.583,91.676],"nice":false,"zero":false},"axis":null}}},
   {"data":{"values":[{"t":"RSX Limited 50.622 50.198"}]},"mark":{"type":"text","align":"left","baseline":"top","color":"#d8d8d8","fontSize":7.5,"dy":2},
    "encoding":{"x":{"datum":1.5,"type":"quantitative","scale":{"domain":[0,213.5],"nice":false,"zero":false},"axis":null},"y":{"datum":91.676,"type":"quantitative","scale":{"domain":[8.583,91.676],"nice":false,"zero":false},"axis":null},"text":{"field":"t"}}},
   {"data":{"values":[{"v":30,"t":"30"},{"v":50,"t":"50"},{"v":70,"t":"70"}]},"mark":{"type":"text","align":"left","baseline":"middle","color":"#dcdcdc","fontSize":6.3},
    "encoding":{"x":{"datum":214.3,"type":"quantitative","scale":{"domain":[0,213.5],"nice":false,"zero":false},"axis":null},"y":{"field":"v","type":"quantitative","scale":{"domain":[8.583,91.676],"nice":false,"zero":false},"axis":null},"text":{"field":"t"}}},
   {"data":{"values":[{"v":91.676,"t":"91.676"}]},"mark":{"type":"text","align":"left","baseline":"top","color":"#dcdcdc","fontSize":6.3,"dy":0},
    "encoding":{"x":{"datum":214.3,"type":"quantitative","scale":{"domain":[0,213.5],"nice":false,"zero":false},"axis":null},"y":{"field":"v","type":"quantitative","scale":{"domain":[8.583,91.676],"nice":false,"zero":false},"axis":null},"text":{"field":"t"}}},
   {"data":{"values":[{"v":8.583,"t":"8.583"}]},"mark":{"type":"text","align":"left","baseline":"bottom","color":"#dcdcdc","fontSize":6.3,"dy":0},
    "encoding":{"x":{"datum":214.3,"type":"quantitative","scale":{"domain":[0,213.5],"nice":false,"zero":false},"axis":null},"y":{"field":"v","type":"quantitative","scale":{"domain":[8.583,91.676],"nice":false,"zero":false},"axis":null},"text":{"field":"t"}}}
  ]
 },
 {
  "width":598,"height":35,
  "layer":[
   {"data":{"name":"grid"},"mark":{"type":"rule","color":"#4a4a4a","strokeDash":[3,3]},
    "encoding":{"x":{"field":"b","type":"quantitative","scale":{"domain":[0,213.5],"nice":false,"zero":false},"axis":null}}},
   {"data":{"name":"sto"},"mark":{"type":"line","strokeWidth":1.2,"interpolate":"monotone","clip":true},
    "encoding":{"x":{"field":"b","type":"quantitative","scale":{"domain":[0,213.5],"nice":false,"zero":false},"axis":null},
     "y":{"field":"v","type":"quantitative","scale":{"domain":[-18.5,118.5],"nice":false,"zero":false},"axis":null},
     "color":{"field":"s","type":"nominal","scale":{"domain":["t","r"],"range":["#1fa896","#d02020"]},"legend":null}}},
   {"data":{"values":[{"t":"Sto(5,3,3) 82.0296 74.7245"}]},"mark":{"type":"text","align":"left","baseline":"top","color":"#c8c8c8","fontSize":7.5,"dy":2},
    "encoding":{"x":{"datum":1,"type":"quantitative","scale":{"domain":[0,213.5],"nice":false,"zero":false},"axis":null},"y":{"datum":118.5,"type":"quantitative","scale":{"domain":[-18.5,118.5],"nice":false,"zero":false},"axis":null},"text":{"field":"t"}}},
   {"data":{"values":[{"t":"FXOpen MetaTrader, © 2001-2008 MetaQuotes Software Corp."}]},"mark":{"type":"text","align":"left","baseline":"alphabetic","color":"#a8a8a8","fontSize":7},
    "encoding":{"x":{"datum":1.5,"type":"quantitative","scale":{"domain":[0,213.5],"nice":false,"zero":false},"axis":null},"y":{"datum":-6,"type":"quantitative","scale":{"domain":[-18.5,118.5],"nice":false,"zero":false},"axis":null},"text":{"field":"t"}}},
   {"data":{"values":[{"v":0,"t":"0"},{"v":100,"t":"100"}]},"mark":{"type":"text","align":"left","baseline":"middle","color":"#dcdcdc","fontSize":6.3},
    "encoding":{"x":{"datum":214.3,"type":"quantitative","scale":{"domain":[0,213.5],"nice":false,"zero":false},"axis":null},"y":{"field":"v","type":"quantitative","scale":{"domain":[-18.5,118.5],"nice":false,"zero":false},"axis":null},"text":{"field":"t"}}},
   {"data":{"name":"xl"},"mark":{"type":"rule","color":"#a0a0a0"},
    "encoding":{"x":{"field":"b","type":"quantitative","scale":{"domain":[0,213.5],"nice":false,"zero":false},"axis":null},"y":{"datum":-18.5,"type":"quantitative","scale":{"domain":[-18.5,118.5],"nice":false,"zero":false},"axis":null},"y2":{"datum":-26}}},
   {"data":{"name":"xl"},"mark":{"type":"text","align":"left","baseline":"top","color":"#dcdcdc","fontSize":6.5,"dy":2,"dx":1},
    "encoding":{"x":{"field":"b","type":"quantitative","scale":{"domain":[0,213.5],"nice":false,"zero":false},"axis":null},"y":{"datum":-18.5,"type":"quantitative","scale":{"domain":[-18.5,118.5],"nice":false,"zero":false},"axis":null},"text":{"field":"t"}}}
  ]
 }
],
"resolve":{"scale":{"x":"independent","y":"independent","color":"independent"}}
}
